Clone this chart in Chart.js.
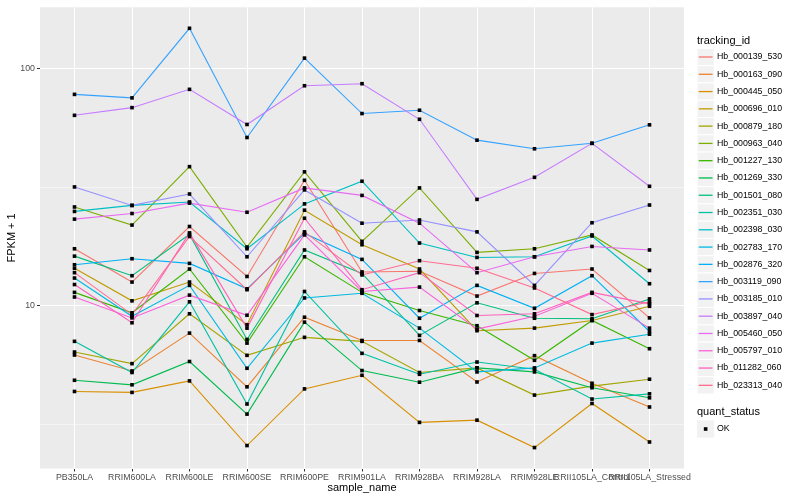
<!DOCTYPE html>
<html>
<head>
<meta charset="utf-8">
<script src="https://cdn.jsdelivr.net/npm/chart.js@4.4.1/dist/chart.umd.min.js"></script>
<style>
  html, body { margin: 0; padding: 0; background: #fff; }
</style>
</head>
<body>
<canvas id="chart" width="800" height="500"></canvas>
<script>
'use strict';

// x axis categories
const sampleNames = ['PB350LA', 'RRIM600LA', 'RRIM600LE', 'RRIM600SE', 'RRIM600PE', 'RRIM901LA',
  'RRIM928BA', 'RRIM928LA', 'RRIM928LE', 'RRII105LA_Control', 'RRII105LA_Stressed'];

// FPKM + 1 per gene, same order as sampleNames
const hb_000139_530 = [17.4, 12.6, 21.6, 13.3, 33.8, 13.9, 14.0, 11.0, 13.7, 14.3, 8.9];
const hb_000163_090 = [6.21, 5.32, 7.68, 4.56, 8.96, 7.15, 7.15, 4.78, 6.17, 4.72, 3.75];
const hb_000445_050 = [4.36, 4.32, 4.83, 2.58, 4.47, 5.10, 3.23, 3.30, 2.53, 3.88, 2.67];
const hb_000696_010 = [14.4, 10.5, 12.6, 8.33, 25.3, 18.1, 14.3, 7.86, 8.06, 8.68, 9.96];
const hb_000879_180 = [6.39, 5.71, 9.26, 6.19, 7.37, 7.09, 5.24, 5.48, 4.21, 4.59, 4.91];
const hb_000963_040 = [26.1, 21.9, 38.6, 17.7, 36.7, 18.7, 31.4, 16.8, 17.4, 19.9, 14.1];
const hb_001227_130 = [11.4, 9.35, 14.3, 6.97, 16.1, 11.4, 9.56, 8.25, 5.90, 8.68, 6.60];
const hb_001269_330 = [4.86, 4.65, 5.83, 3.50, 8.54, 5.34, 4.77, 5.48, 5.27, 4.52, 4.10];
const hb_001501_080 = [16.2, 13.4, 20.0, 7.22, 17.2, 13.7, 7.51, 10.3, 8.87, 8.82, 10.7];
const hb_002351_030 = [7.09, 5.24, 10.4, 3.86, 11.5, 6.31, 5.15, 5.80, 5.41, 4.05, 4.26];
const hb_002398_030 = [25.0, 26.5, 27.4, 17.4, 26.9, 33.5, 18.4, 16.0, 16.1, 19.7, 12.4];
const hb_002783_170 = [13.1, 9.04, 12.2, 5.46, 10.8, 11.3, 8.06, 5.27, 5.48, 6.97, 7.60];
const hb_002876_320 = [14.9, 15.8, 15.1, 11.8, 20.2, 15.7, 8.87, 12.2, 9.77, 13.4, 7.80];
const hb_003119_090 = [77.8, 75.2, 147.7, 51.2, 110.6, 64.6, 66.7, 49.9, 45.9, 48.4, 57.9];
const hb_003185_010 = [31.7, 26.5, 29.6, 16.1, 30.8, 22.3, 23.0, 20.5, 12.2, 22.4, 26.6];
const hb_003897_040 = [63.5, 68.4, 81.7, 58.1, 84.6, 86.3, 61.1, 28.1, 34.8, 48.4, 31.9];
const hb_005460_050 = [23.2, 24.5, 27.1, 24.8, 31.4, 29.2, 22.3, 13.8, 16.1, 17.8, 17.2];
const hb_005797_010 = [10.9, 8.9, 11.1, 9.13, 19.9, 11.5, 12.0, 7.98, 9.04, 11.3, 8.06];
const hb_011282_060 = [12.3, 8.49, 20.3, 8.06, 23.4, 11.7, 13.8, 9.11, 9.26, 11.4, 10.2];
const hb_023313_040 = [13.8, 9.19, 19.6, 11.7, 20.5, 13.5, 15.5, 14.4, 11.9, 9.19, 10.4];

const trackingIds = ['Hb_000139_530', 'Hb_000163_090', 'Hb_000445_050', 'Hb_000696_010', 'Hb_000879_180',
  'Hb_000963_040', 'Hb_001227_130', 'Hb_001269_330', 'Hb_001501_080', 'Hb_002351_030',
  'Hb_002398_030', 'Hb_002783_170', 'Hb_002876_320', 'Hb_003119_090', 'Hb_003185_010',
  'Hb_003897_040', 'Hb_005460_050', 'Hb_005797_010', 'Hb_011282_060', 'Hb_023313_040'];
const seriesValues = [hb_000139_530, hb_000163_090, hb_000445_050, hb_000696_010, hb_000879_180,
  hb_000963_040, hb_001227_130, hb_001269_330, hb_001501_080, hb_002351_030,
  hb_002398_030, hb_002783_170, hb_002876_320, hb_003119_090, hb_003185_010,
  hb_003897_040, hb_005460_050, hb_005797_010, hb_011282_060, hb_023313_040];
const quantStatus = ['OK'];

// log axis ticks (labelled) and minor grid
const yTickValues = [10, 100];
const yMinorValues = [3.1623, 31.623];
const yMin = 2.065, yMax = 181.1;

// ggplot default hue palette
const palette = ['#F8766D', '#EA8331', '#D89000', '#C09B00', '#A3A500', '#7CAE00', '#39B600', '#00BB4E',
  '#00BF7D', '#00C1A3', '#00BFC4', '#00BAE0', '#00B0F6', '#35A2FF', '#9590FF', '#C77CFF',
  '#E76BF3', '#FA62DB', '#FF62BC', '#FF6C91'];

const fontFamily = '"Liberation Sans", Arial, Helvetica, sans-serif';
Chart.defaults.font.family = fontFamily;

const panelBg = {
  id: 'panelBg',
  beforeDraw(chart) {
    const { ctx, chartArea: a } = chart;
    ctx.save();
    ctx.fillStyle = '#fff';
    ctx.fillRect(0, 0, chart.width, chart.height);
    ctx.fillStyle = '#EBEBEB';
    ctx.fillRect(a.left, a.top, a.right - a.left, a.bottom - a.top);
    ctx.restore();
  }
};

// points go on top of every line, like geom_point after geom_line
const pointLayer = {
  id: 'pointLayer',
  afterDatasetsDraw(chart) {
    const ctx = chart.ctx;
    ctx.save();
    ctx.fillStyle = '#000';
    chart.data.datasets.forEach((ds, i) => {
      chart.getDatasetMeta(i).data.forEach(el => {
        ctx.fillRect(el.x - 1.8, el.y - 1.8, 3.6, 3.6);
      });
    });
    ctx.restore();
  }
};

const ggLegend = {
  id: 'ggLegend',
  afterDraw(chart) {
    const ctx = chart.ctx;
    const x0 = 697, key = 17.28;
    ctx.save();
    ctx.textAlign = 'left';
    ctx.textBaseline = 'middle';
    ctx.fillStyle = '#000';
    ctx.font = '11px ' + fontFamily;
    ctx.fillText('tracking_id', x0, 40.5);
    trackingIds.forEach((name, i) => {
      const cy = 57 + i * key;
      ctx.fillStyle = '#F2F2F2';
      ctx.fillRect(x0, cy - key / 2, key, key);
      ctx.strokeStyle = '#fff';
      ctx.lineWidth = 1;
      ctx.strokeRect(x0, cy - key / 2, key, key);
      ctx.strokeStyle = palette[i];
      ctx.lineWidth = 1.3;
      ctx.beginPath();
      ctx.moveTo(x0 + key * 0.1, cy);
      ctx.lineTo(x0 + key * 0.9, cy);
      ctx.stroke();
      ctx.fillStyle = '#000';
      ctx.font = '8.8px ' + fontFamily;
      ctx.fillText(name, 717, cy);
    });
    ctx.font = '11px ' + fontFamily;
    ctx.fillText('quant_status', x0, 412);
    quantStatus.forEach((name, i) => {
      const cy = 429 + i * key;
      ctx.fillStyle = '#F2F2F2';
      ctx.fillRect(x0, cy - key / 2, key, key);
      ctx.fillStyle = '#000';
      ctx.fillRect(x0 + key / 2 - 1.8, cy - 1.8, 3.6, 3.6);
      ctx.font = '8.8px ' + fontFamily;
      ctx.fillText(name, 717, cy);
    });
    ctx.restore();
  }
};

const datasets = seriesValues.map((vals, i) => ({
  label: trackingIds[i],
  data: vals.map((v, j) => ({ x: j, y: v })),
  borderColor: palette[i],
  borderWidth: 1.1,
  pointRadius: 0,
  fill: false,
  tension: 0,
  order: seriesValues.length - i
}));

new Chart(document.getElementById('chart'), {
  type: 'line',
  data: { datasets: datasets },
  options: {
    responsive: false,
    animation: false,
    layout: { padding: { left: 0, top: 5, right: 116, bottom: 0 } },
    plugins: {
      legend: { display: false },
      tooltip: { enabled: false }
    },
    scales: {
      x: {
        type: 'linear',
        min: -0.6,
        max: sampleNames.length - 0.4,
        afterBuildTicks: s => { s.ticks = sampleNames.map((n, i) => ({ value: i })); },
        afterFit: s => { s.height = 31.5; },
        ticks: {
          autoSkip: false,
          maxRotation: 0,
          minRotation: 0,
          padding: 1,
          color: '#4D4D4D',
          font: { size: 8.8 },
          callback: v => sampleNames[v]
        },
        grid: { color: '#fff', lineWidth: 1, tickLength: 3, tickColor: '#333333' },
        border: { display: false },
        title: {
          display: true,
          text: 'sample_name',
          color: '#000',
          font: { size: 11 },
          padding: { top: 0, bottom: 5 }
        }
      },
      y: {
        type: 'logarithmic',
        min: yMin,
        max: yMax,
        afterBuildTicks: s => {
          s.ticks = yMinorValues.concat(yTickValues).sort((a, b) => a - b).map(v => ({ value: v }));
        },
        afterFit: s => { s.width = 40; },
        ticks: {
          padding: 2,
          color: '#4D4D4D',
          font: { size: 8.8 },
          callback: v => (yTickValues.includes(v) ? String(v) : '')
        },
        grid: {
          color: '#fff',
          lineWidth: c => (yTickValues.includes(c.tick.value) ? 1 : 0.5),
          tickLength: 3,
          tickColor: c => (yTickValues.includes(c.tick.value) ? '#333333' : 'rgba(0,0,0,0)')
        },
        border: { display: false },
        title: {
          display: true,
          text: 'FPKM + 1',
          color: '#000',
          font: { size: 11 },
          padding: { top: 5, bottom: 0 }
        }
      }
    }
  },
  plugins: [panelBg, pointLayer, ggLegend]
});
</script>
</body>
</html>
